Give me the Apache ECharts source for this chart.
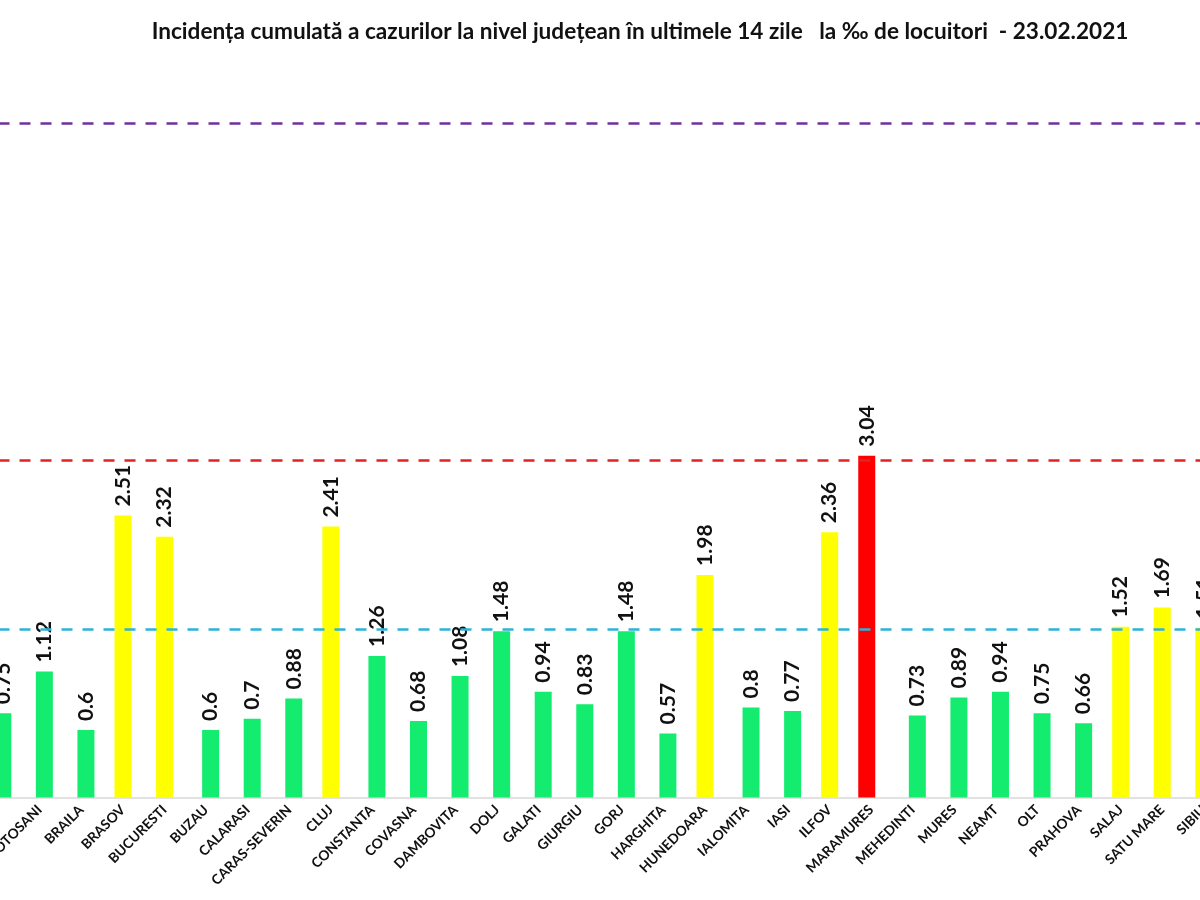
<!DOCTYPE html>
<html>
<head>
<meta charset="utf-8">
<script src="https://cdn.jsdelivr.net/npm/echarts@6/dist/echarts.min.js"></script>
<style>html,body{margin:0;padding:0;background:#fff}#c{width:1200px;height:900px}</style>
</head>
<body>
<div id="c"></div>
<script>
const titleText = 'Incidența cumulată a cazurilor la nivel județean în ultimele 14 zile   la ‰ de locuitori  - 23.02.2021';
const categories = ['BISTRITA-NASAUD','BOTOSANI','BRAILA','BRASOV','BUCURESTI','BUZAU','CALARASI','CARAS-SEVERIN','CLUJ','CONSTANTA','COVASNA','DAMBOVITA','DOLJ','GALATI','GIURGIU','GORJ','HARGHITA','HUNEDOARA','IALOMITA','IASI','ILFOV','MARAMURES','MEHEDINTI','MURES','NEAMT','OLT','PRAHOVA','SALAJ','SATU MARE','SIBIU'];
// values split by class (green < 1.5, yellow 1.5–3, red > 3)
const redValues    = ['-','-','-','-','-','-','-','-','-','-','-','-','-','-','-','-','-','-','-','-','-',3.04,'-','-','-','-','-','-','-','-'];
const yellowValues = ['-','-','-',2.51,2.32,'-','-','-',2.41,'-','-','-','-','-','-','-','-',1.98,'-','-',2.36,'-','-','-','-','-','-',1.52,1.69,1.51];
const greenValues  = [0.75,1.12,0.6,'-','-',0.6,0.7,0.88,'-',1.26,0.68,1.08,1.48,0.94,0.83,1.48,0.57,'-',0.8,0.77,'-','-',0.73,0.89,0.94,0.75,0.66,'-','-','-'];
const thresholds = [1.5, 3, 6];
const thresholdColors = ['#2BB3DA', '#E02424', '#7030A0'];

const chart = echarts.init(document.getElementById('c'));
const valueLabel = {
  show: true, position: 'top', rotate: 90, align: 'left', verticalAlign: 'middle',
  distance: 9, fontFamily: 'Lato', fontWeight: 'bold', fontSize: 21, color: '#111',
  formatter: p => String(p.value)
};
const common = { type: 'bar', barWidth: 17, barGap: '-73.5%', label: valueLabel };
chart.setOption({
  animation: false,
  title: {
    text: titleText, left: 635, top: 15, textAlign: 'center',
    textStyle: { fontFamily: 'Lato', fontWeight: 'bold', fontSize: 22.6, color: '#111' }
  },
  grid: { left: -22.5, right: -24.6, top: 66.9, bottom: 102.5, outerBoundsMode: 'none', containLabel: false },
  xAxis: {
    type: 'category', data: categories,
    axisLine: { show: true, lineStyle: { color: '#d9d9d9', width: 1.5 } },
    axisTick: { show: false },
    axisLabel: { interval: 0, rotate: 45, margin: 10, fontFamily: 'Lato', fontWeight: 'bold', fontSize: 13.8, color: '#111' }
  },
  yAxis: { type: 'value', min: 0, max: 6.5, show: false, splitLine: { show: false } },
  series: [
    Object.assign({}, common, { name: 'red', data: redValues, itemStyle: { color: '#FF0000' } }),
    Object.assign({}, common, { name: 'yellow', data: yellowValues, itemStyle: { color: '#FFFF00' } }),
    Object.assign({}, common, {
      name: 'green', data: greenValues, itemStyle: { color: '#13EC6E' },
      markLine: {
        silent: true, symbol: 'none', label: { show: false }, z: 10,
        data: thresholds.map((t, i) => ({ yAxis: t, lineStyle: { color: thresholdColors[i], type: [11, 10], width: 2.5 } }))
      }
    })
  ]
});
</script>
</body>
</html>
